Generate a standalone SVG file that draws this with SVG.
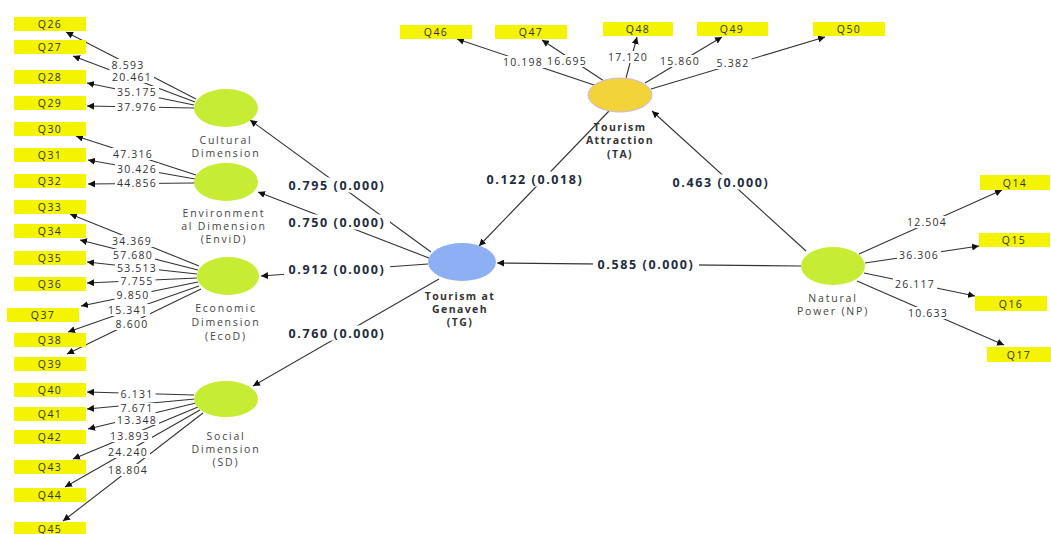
<svg xmlns="http://www.w3.org/2000/svg" width="1051" height="534" viewBox="0 0 1051 534">
<defs>
<marker id="ah" viewBox="0 0 10 10" refX="10" refY="5" markerWidth="7" markerHeight="7" markerUnits="userSpaceOnUse" orient="auto">
<path d="M0,0 L10,5 L0,10 z" fill="#111"/>
</marker>
<style>
.ln{stroke:#333;stroke-width:1.1;fill:none;marker-end:url(#ah)}
.box{fill:#f4f400}
.bg{fill:#fff}
.bt{font-family:"Open Sans","DejaVu Sans",sans-serif;font-size:10.5px;fill:#333;text-anchor:middle;dominant-baseline:central;letter-spacing:1.4px}
.il{font-family:"Open Sans","DejaVu Sans",sans-serif;font-size:10.5px;fill:#333;text-anchor:middle;dominant-baseline:central;letter-spacing:1.2px}
.pl{font-family:"Open Sans","DejaVu Sans",sans-serif;font-size:12.5px;font-weight:bold;fill:#1e2a3e;text-anchor:middle;dominant-baseline:central;letter-spacing:1.6px}
.nl{font-family:"Open Sans","DejaVu Sans",sans-serif;font-size:10.5px;fill:#444;text-anchor:middle;letter-spacing:1.8px}
.nb{font-family:"Open Sans","DejaVu Sans",sans-serif;font-size:10.5px;font-weight:bold;fill:#333;text-anchor:middle;letter-spacing:1.4px}
.g{fill:#c6ec34}
</style>
</defs>
<rect width="1051" height="534" fill="#fff"/>

<g id="connectors">
<line class="ln" x1="196" y1="99" x2="66" y2="32"/>
<line class="ln" x1="195" y1="102" x2="73" y2="56"/>
<line class="ln" x1="194" y1="105" x2="87" y2="83"/>
<line class="ln" x1="194" y1="108" x2="87" y2="106"/>
<line class="ln" x1="196" y1="175" x2="76" y2="136"/>
<line class="ln" x1="195" y1="179" x2="88" y2="160"/>
<line class="ln" x1="195" y1="183" x2="88" y2="184"/>
<line class="ln" x1="199" y1="266" x2="70" y2="214"/>
<line class="ln" x1="198" y1="270" x2="80" y2="240"/>
<line class="ln" x1="197" y1="274" x2="87" y2="262"/>
<line class="ln" x1="197" y1="278" x2="87" y2="283"/>
<line class="ln" x1="198" y1="282" x2="81" y2="306"/>
<line class="ln" x1="199" y1="286" x2="68" y2="332"/>
<line class="ln" x1="201" y1="289" x2="67" y2="354"/>
<line class="ln" x1="194" y1="395" x2="87" y2="392"/>
<line class="ln" x1="195" y1="399" x2="87" y2="409"/>
<line class="ln" x1="196" y1="403" x2="88" y2="429"/>
<line class="ln" x1="198" y1="407" x2="73" y2="459"/>
<line class="ln" x1="200" y1="410" x2="65" y2="487"/>
<line class="ln" x1="203" y1="413" x2="63" y2="521"/>
<line class="ln" x1="597" y1="86" x2="457" y2="39"/>
<line class="ln" x1="604" y1="81" x2="542" y2="40"/>
<line class="ln" x1="626" y1="78" x2="637" y2="37"/>
<line class="ln" x1="645" y1="83" x2="722" y2="37"/>
<line class="ln" x1="651" y1="89" x2="825" y2="37"/>
<line class="ln" x1="859" y1="254" x2="1002" y2="190"/>
<line class="ln" x1="865" y1="263" x2="979" y2="246"/>
<line class="ln" x1="864" y1="273" x2="975" y2="296"/>
<line class="ln" x1="857" y1="281" x2="1004" y2="345"/>
<line class="ln" x1="431" y1="252" x2="250" y2="120"/>
<line class="ln" x1="429" y1="258" x2="258" y2="192"/>
<line class="ln" x1="428" y1="264" x2="261" y2="276"/>
<line class="ln" x1="439" y1="279" x2="253" y2="386"/>
<line class="ln" x1="609" y1="111" x2="479" y2="246"/>
<line class="ln" x1="806" y1="251" x2="652" y2="111"/>
<line class="ln" x1="801" y1="266" x2="497" y2="263"/>

<g id="weights">
<rect class="bg" x="109.5" y="59" width="37" height="12"/><text class="il" x="128" y="65">8.593</text>
<rect class="bg" x="110" y="71" width="44" height="12"/><text class="il" x="132" y="77">20.461</text>
<rect class="bg" x="115" y="86" width="44" height="12"/><text class="il" x="137" y="92">35.175</text>
<rect class="bg" x="115" y="101" width="44" height="12"/><text class="il" x="137" y="107">37.976</text>
<rect class="bg" x="111" y="148" width="44" height="12"/><text class="il" x="133" y="154">47.316</text>
<rect class="bg" x="115" y="163" width="44" height="12"/><text class="il" x="137" y="169">30.426</text>
<rect class="bg" x="115" y="177" width="44" height="12"/><text class="il" x="137" y="183">44.856</text>
<rect class="bg" x="110" y="235" width="44" height="12"/><text class="il" x="132" y="241">34.369</text>
<rect class="bg" x="111" y="249" width="44" height="12"/><text class="il" x="133" y="255">57.680</text>
<rect class="bg" x="115" y="262" width="44" height="12"/><text class="il" x="137" y="268">53.513</text>
<rect class="bg" x="118.5" y="275" width="37" height="12"/><text class="il" x="137" y="281">7.755</text>
<rect class="bg" x="114.5" y="289" width="37" height="12"/><text class="il" x="133" y="295">9.850</text>
<rect class="bg" x="106" y="304" width="44" height="12"/><text class="il" x="128" y="310">15.341</text>
<rect class="bg" x="113.5" y="318" width="37" height="12"/><text class="il" x="132" y="324">8.600</text>
<rect class="bg" x="118.5" y="389" width="37" height="11"/><text class="il" x="137" y="394">6.131</text>
<rect class="bg" x="118.5" y="403" width="37" height="11"/><text class="il" x="137" y="408">7.671</text>
<rect class="bg" x="115" y="414" width="44" height="11"/><text class="il" x="137" y="420">13.348</text>
<rect class="bg" x="108" y="430" width="44" height="12"/><text class="il" x="130" y="436">13.893</text>
<rect class="bg" x="106" y="446" width="44" height="12"/><text class="il" x="128" y="452">24.240</text>
<rect class="bg" x="106" y="464" width="44" height="12"/><text class="il" x="128" y="470">18.804</text>
<rect class="bg" x="501" y="56" width="44" height="12"/><text class="il" x="523" y="62">10.198</text>
<rect class="bg" x="545" y="55" width="44" height="12"/><text class="il" x="567" y="61">16.695</text>
<rect class="bg" x="606" y="51" width="44" height="12"/><text class="il" x="628" y="57">17.120</text>
<rect class="bg" x="658" y="55" width="44" height="12"/><text class="il" x="680" y="61">15.860</text>
<rect class="bg" x="714.5" y="57" width="37" height="12"/><text class="il" x="733" y="63">5.382</text>
<rect class="bg" x="905" y="216" width="44" height="12"/><text class="il" x="927" y="222">12.504</text>
<rect class="bg" x="897" y="249" width="44" height="12"/><text class="il" x="919" y="255">36.306</text>
<rect class="bg" x="893" y="278" width="44" height="12"/><text class="il" x="915" y="284">26.117</text>
<rect class="bg" x="906" y="307" width="44" height="12"/><text class="il" x="928" y="313">10.633</text>
</g>
<g id="path-coefficients">
<rect class="bg" x="284" y="177.5" width="106" height="15"/><text class="pl" x="337" y="185">0.795 (0.000)</text>
<rect class="bg" x="284" y="214.5" width="106" height="15"/><text class="pl" x="337" y="222">0.750 (0.000)</text>
<rect class="bg" x="284" y="261.5" width="106" height="15"/><text class="pl" x="337" y="269">0.912 (0.000)</text>
<rect class="bg" x="284" y="325.5" width="106" height="15"/><text class="pl" x="337" y="333">0.760 (0.000)</text>
<rect class="bg" x="482" y="171.5" width="106" height="15"/><text class="pl" x="535" y="179">0.122 (0.018)</text>
<rect class="bg" x="668" y="174.5" width="106" height="15"/><text class="pl" x="721" y="182">0.463 (0.000)</text>
<rect class="bg" x="593" y="256.5" width="106" height="15"/><text class="pl" x="646" y="264">0.585 (0.000)</text>
</g>
</g>

<g id="node-CD">
<ellipse class="g" cx="226" cy="108" rx="32" ry="19"/>
<text class="nl" x="226" y="144">Cultural</text>
<text class="nl" x="226" y="157">Dimension</text>
</g>
<g id="node-EnviD">
<ellipse class="g" cx="226" cy="182" rx="32" ry="19"/>
<text class="nl" x="224" y="217">Environment</text>
<text class="nl" x="224" y="230">al Dimension</text>
<text class="nl" x="224" y="243">(EnviD)</text>
</g>
<g id="node-EcoD">
<ellipse class="g" cx="228" cy="276" rx="31" ry="19"/>
<text class="nl" x="226" y="312">Economic</text>
<text class="nl" x="226" y="326">Dimension</text>
<text class="nl" x="226" y="340">(EcoD)</text>
</g>
<g id="node-SD">
<ellipse class="g" cx="226" cy="399" rx="32" ry="18"/>
<text class="nl" x="226" y="440">Social</text>
<text class="nl" x="226" y="453">Dimension</text>
<text class="nl" x="226" y="466">(SD)</text>
</g>
<g id="node-TG">
<ellipse cx="462" cy="262" rx="34" ry="19" fill="#8db0f4"/>
<text class="nb" x="460" y="300">Tourism at</text>
<text class="nb" x="460" y="313">Genaveh</text>
<text class="nb" x="460" y="326">(TG)</text>
</g>
<g id="node-TA">
<ellipse cx="620" cy="95" rx="32" ry="17" fill="#f2d43a" stroke="#c9b6ee" stroke-width="1"/>
<text class="nb" x="620" y="131">Tourism</text>
<text class="nb" x="620" y="144">Attraction</text>
<text class="nb" x="620" y="158">(TA)</text>
</g>
<g id="node-NP">
<ellipse class="g" cx="833" cy="266" rx="32" ry="19"/>
<text class="nl" x="833" y="302">Natural</text>
<text class="nl" x="833" y="315">Power (NP)</text>
</g>

<g id="indicators">
<g id="Q26"><rect class="box" x="14" y="17" width="72" height="14"/><text class="bt" x="50" y="24">Q26</text></g>
<g id="Q27"><rect class="box" x="14" y="40" width="72" height="14"/><text class="bt" x="50" y="47">Q27</text></g>
<g id="Q28"><rect class="box" x="14" y="70" width="72" height="14"/><text class="bt" x="50" y="77">Q28</text></g>
<g id="Q29"><rect class="box" x="14" y="96" width="72" height="14"/><text class="bt" x="50" y="103">Q29</text></g>
<g id="Q30"><rect class="box" x="14" y="122" width="72" height="14"/><text class="bt" x="50" y="129">Q30</text></g>
<g id="Q31"><rect class="box" x="14" y="148" width="72" height="14"/><text class="bt" x="50" y="155">Q31</text></g>
<g id="Q32"><rect class="box" x="14" y="174" width="72" height="14"/><text class="bt" x="50" y="181">Q32</text></g>
<g id="Q33"><rect class="box" x="14" y="200" width="72" height="14"/><text class="bt" x="50" y="207">Q33</text></g>
<g id="Q34"><rect class="box" x="14" y="224" width="72" height="14"/><text class="bt" x="50" y="231">Q34</text></g>
<g id="Q35"><rect class="box" x="14" y="251" width="72" height="14"/><text class="bt" x="50" y="258">Q35</text></g>
<g id="Q36"><rect class="box" x="14" y="277" width="72" height="14"/><text class="bt" x="50" y="284">Q36</text></g>
<g id="Q37"><rect class="box" x="7" y="308" width="72" height="14"/><text class="bt" x="43" y="315">Q37</text></g>
<g id="Q38"><rect class="box" x="14" y="333" width="72" height="14"/><text class="bt" x="50" y="340">Q38</text></g>
<g id="Q39"><rect class="box" x="14" y="357" width="72" height="14"/><text class="bt" x="50" y="364">Q39</text></g>
<g id="Q40"><rect class="box" x="14" y="383" width="72" height="14"/><text class="bt" x="50" y="390">Q40</text></g>
<g id="Q41"><rect class="box" x="14" y="407" width="72" height="14"/><text class="bt" x="50" y="414">Q41</text></g>
<g id="Q42"><rect class="box" x="14" y="430" width="72" height="14"/><text class="bt" x="50" y="437">Q42</text></g>
<g id="Q43"><rect class="box" x="14" y="460" width="72" height="14"/><text class="bt" x="50" y="467">Q43</text></g>
<g id="Q44"><rect class="box" x="14" y="488" width="72" height="14"/><text class="bt" x="50" y="495">Q44</text></g>
<g id="Q45"><rect class="box" x="14" y="522" width="72" height="12"/><text class="bt" x="50" y="528.5">Q45</text></g>
<g id="Q46"><rect class="box" x="400" y="25" width="72" height="14"/><text class="bt" x="436" y="32">Q46</text></g>
<g id="Q47"><rect class="box" x="495" y="25" width="72" height="14"/><text class="bt" x="531" y="32">Q47</text></g>
<g id="Q48"><rect class="box" x="603" y="22" width="70" height="14"/><text class="bt" x="638" y="29">Q48</text></g>
<g id="Q49"><rect class="box" x="697" y="22" width="71" height="14"/><text class="bt" x="732" y="29">Q49</text></g>
<g id="Q50"><rect class="box" x="813" y="22" width="72" height="14"/><text class="bt" x="849" y="29">Q50</text></g>
<g id="Q14"><rect class="box" x="980" y="175" width="70" height="15"/><text class="bt" x="1015" y="182.5">Q14</text></g>
<g id="Q15"><rect class="box" x="979" y="233" width="71" height="14"/><text class="bt" x="1014" y="240">Q15</text></g>
<g id="Q16"><rect class="box" x="975" y="296" width="72" height="15"/><text class="bt" x="1011" y="303.5">Q16</text></g>
<g id="Q17"><rect class="box" x="987" y="347" width="64" height="15"/><text class="bt" x="1019" y="354.5">Q17</text></g>
</g>
</svg>
